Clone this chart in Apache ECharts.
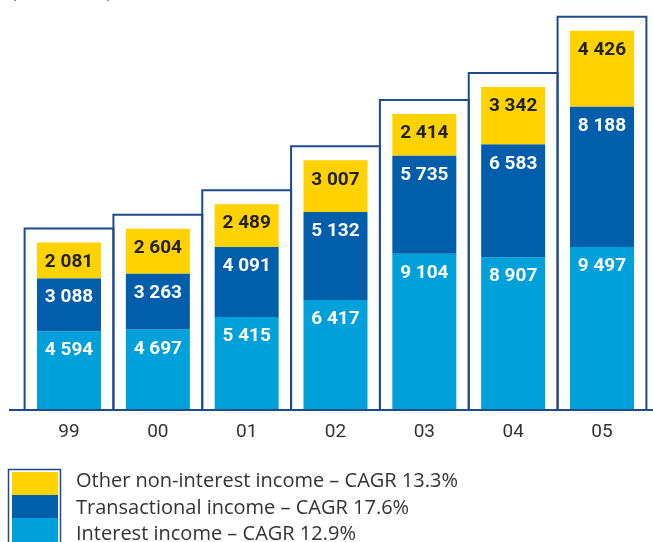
<!DOCTYPE html>
<html>
<head>
<meta charset="utf-8">
<script src="https://cdn.jsdelivr.net/npm/echarts@6/dist/echarts.min.js"></script>
<style>
  html, body { margin: 0; padding: 0; background: #fff; }
  #chart { width: 653px; height: 542px; }
</style>
</head>
<body>
<div id="chart"></div>
<script>
// Years shown on the category axis
const years = ['99', '00', '01', '02', '03', '04', '05'];

// Income components, bottom to top of each stack
const interestIncome = [4594, 4697, 5415, 6417, 9104, 8907, 9497];
const transactionalIncome = [3088, 3263, 4091, 5132, 5735, 6583, 8188];
const otherIncome = [2081, 2604, 2489, 3007, 2414, 3342, 4426];

// Legend captions
const seriesNames = [
  'Interest income – CAGR 12.9%',
  'Transactional income – CAGR 17.6%',
  'Other non-interest income – CAGR 13.3%'
];

const COLORS = ['#00A0DA', '#005EAB', '#FFD200'];
const NAVY = '#1F4B8E';
const FONT = 'Roboto, "DejaVu Sans", sans-serif';
const LEGEND_FONT = '"Open Sans", Roboto, sans-serif';

const totals = years.map((_, i) => interestIncome[i] + transactionalIncome[i] + otherIncome[i]);

const fmt = v => String(v).replace(/\B(?=(\d{3})+(?!\d))/g, ' ');

function stackSeries(name, data, color, textColor) {
  return {
    name: name,
    type: 'bar',
    stack: 'income',
    data: data,
    barWidth: 64,
    itemStyle: { color: color },
    label: {
      show: true,
      position: 'insideTop',
      distance: 10,
      color: textColor,
      fontFamily: FONT,
      fontWeight: 'bold',
      fontSize: 19,
      formatter: p => fmt(p.value)
    },
    z: 3
  };
}

const chart = echarts.init(document.getElementById('chart'), null, { renderer: 'canvas' });

const GRID_BOTTOM = 132;
const BASE_Y = 542 - GRID_BOTTOM;

chart.setOption({
  animation: false,
  grid: { left: 24.6, right: 6.6, top: 0, bottom: GRID_BOTTOM },
  xAxis: {
    type: 'category',
    data: years,
    axisLine: { show: false },
    axisTick: { show: false },
    axisLabel: { color: '#333', fontFamily: FONT, fontSize: 19, margin: 13 }
  },
  yAxis: {
    type: 'value',
    min: 0,
    max: 23900,
    show: false
  },
  series: [
    {
      // Framing outline around each year's stack
      type: 'custom',
      data: years.map((_, i) => [i, totals[i]]),
      z: 1,
      silent: true,
      renderItem: function (params, api) {
        const top = api.coord([api.value(0), api.value(1)]);
        const base = api.coord([api.value(0), 0]);
        const w = api.size([1, 0])[0];
        return {
          type: 'rect',
          shape: { x: top[0] - w / 2, y: top[1] - 14, width: w, height: base[1] - top[1] + 14 },
          style: { fill: 'none', stroke: NAVY, lineWidth: 2 }
        };
      }
    },
    stackSeries(seriesNames[0], interestIncome, COLORS[0], '#fff'),
    stackSeries(seriesNames[1], transactionalIncome, COLORS[1], '#fff'),
    stackSeries(seriesNames[2], otherIncome, COLORS[2], '#222')
  ],
  graphic: [
    {
      type: 'text', left: 10, top: -17,
      style: { text: '(EUR million)', fill: '#444', font: '18px ' + FONT }
    },
    {
      type: 'line', z: 10,
      shape: { x1: 9, y1: BASE_Y, x2: 653, y2: BASE_Y },
      style: { stroke: NAVY, lineWidth: 2 }
    },
    // Legend: stacked swatches in one outlined box
    {
      type: 'rect',
      shape: { x: 8.5, y: 469.5, width: 52, height: 80 },
      style: { fill: '#fff', stroke: NAVY, lineWidth: 1.5 }
    },
    { type: 'rect', shape: { x: 12, y: 472, width: 46, height: 23 }, style: { fill: COLORS[2] } },
    { type: 'rect', shape: { x: 12, y: 495, width: 46, height: 23 }, style: { fill: COLORS[1] } },
    { type: 'rect', shape: { x: 12, y: 518, width: 46, height: 26 }, style: { fill: COLORS[0] } },
    {
      type: 'text', left: 76, top: 471,
      style: { text: seriesNames[2], fill: '#333', font: '20px ' + LEGEND_FONT }
    },
    {
      type: 'text', left: 76, top: 498,
      style: { text: seriesNames[1], fill: '#333', font: '20px ' + LEGEND_FONT }
    },
    {
      type: 'text', left: 76, top: 524,
      style: { text: seriesNames[0], fill: '#333', font: '20px ' + LEGEND_FONT }
    }
  ]
});
</script>
</body>
</html>
